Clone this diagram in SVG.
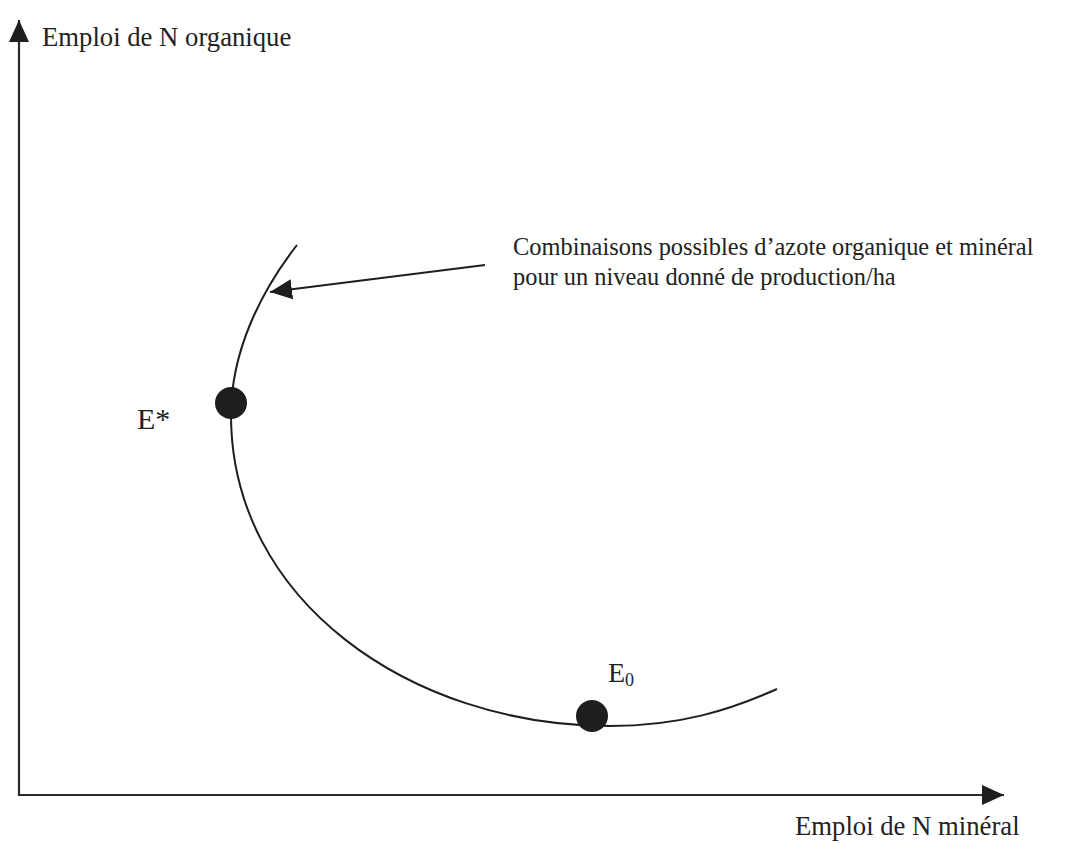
<svg xmlns="http://www.w3.org/2000/svg" width="1086" height="843" viewBox="0 0 1086 843">
<style>
  .lbl { font-family: "Liberation Serif", "Times New Roman", serif; fill: #222; }
  .axis { stroke: #2a2a2a; stroke-width: 2.2; fill: none; }
  .curve { stroke: #1e1e1e; stroke-width: 2; fill: none; }
  .dot { fill: #1e1e1e; }
</style>
<defs>
  <marker id="ahead" markerUnits="userSpaceOnUse" markerWidth="24" markerHeight="24" viewBox="0 0 24 24" refX="22" refY="12" orient="auto">
    <path d="M0,2 L22,12 L0,22 Z" fill="#1e1e1e"/>
  </marker>
</defs>
<rect width="1086" height="843" fill="#fff"/>
<g id="connectors">
  <path id="y-axis" class="axis" d="M19,796 L19,20" marker-end="url(#ahead)"/>
  <path id="x-axis" class="axis" d="M18,795 L1004,795" marker-end="url(#ahead)"/>
  <path id="pointer" class="curve" d="M485,265 L270,292" marker-end="url(#ahead)"/>
</g>
<g id="isoquant">
  <path class="curve" d="M297,245 C262,290 231,350 231,415 C231,600 410,726 610,726 C680,726 730,710 777,689"/>
</g>
<g id="node-estar">
  <circle class="dot" cx="231" cy="403" r="16"/>
  <text class="lbl" x="137" y="429" font-size="30">E*</text>
</g>
<g id="node-e0">
  <circle class="dot" cx="592" cy="716" r="16"/>
  <text class="lbl" x="608" y="682" font-size="28">E<tspan font-size="18" dy="4">0</tspan></text>
</g>
<g id="label-y">
  <text class="lbl" x="42" y="46" font-size="26.7">Emploi de N organique</text>
</g>
<g id="label-x">
  <text class="lbl" x="795" y="835" font-size="26.7">Emploi de N minéral</text>
</g>
<g id="label-annotation">
  <text class="lbl" x="513" y="255" font-size="24.4">Combinaisons possibles d’azote organique et minéral</text>
  <text class="lbl" x="513" y="285" font-size="24.4">pour un niveau donné de production/ha</text>
</g>
</svg>
